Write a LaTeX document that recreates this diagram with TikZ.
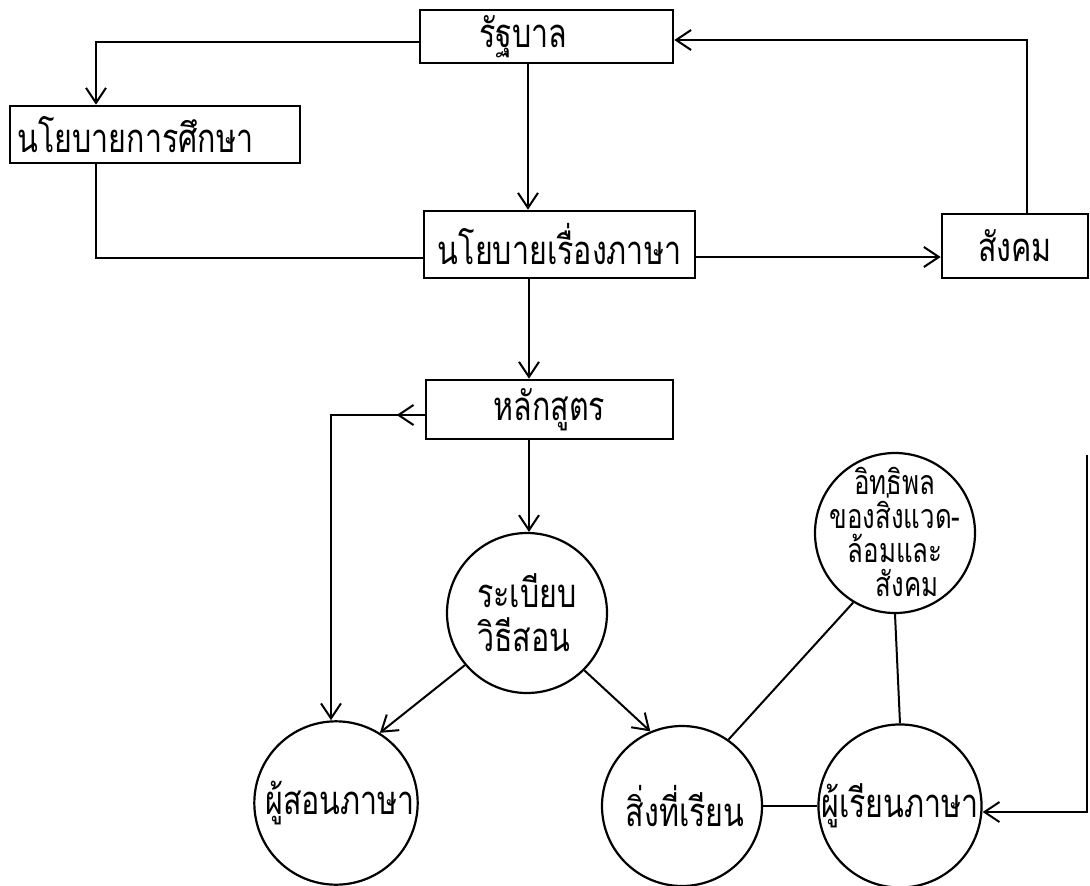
\documentclass[tikz,border=0pt]{standalone}
\usepackage{fontspec}
\setmainfont[Script=Thai,FakeStretch=0.76]{Loma}
\usetikzlibrary{arrows.meta,decorations.markings}
\begin{document}
\begin{tikzpicture}[x=1pt,y=-1pt,
  tip/.style={-{Straight Barb[length=15pt,width=20pt]}},
  box/.style={draw,line width=2.6pt,rectangle,inner sep=0pt,font=\fontsize{40}{44}\selectfont},
  circ/.style={draw,line width=2.2pt,circle,minimum size=160pt,inner sep=0pt,font=\fontsize{40}{44}\selectfont},
  conn/.style={line width=2pt},
  arr/.style={conn,tip},
  leftmark/.style={postaction={decorate,decoration={markings,
     mark=at position 28pt with {\arrow{Straight Barb[length=15pt,width=20pt]}}}}},
]
\fill[white] (0,0) rectangle (1090,886);
\useasboundingbox (0,0) rectangle (1090,886);

% boxes
\node[box,minimum width=253pt,minimum height=53pt] (gov) at (546.5,36.5) {รัฐบาล\hspace*{46pt}};
\node[box,minimum width=290pt,minimum height=57pt] (edpol) at (155,134.5) {นโยบายการศึกษา\hspace*{39pt}};
\node[box,minimum width=271pt,minimum height=67pt] (langpol) at (559.5,244.5) {นโยบายเรื่องภาษา};
\node[box,minimum width=146pt,minimum height=64pt] (soc) at (1015,246) {สังคม};
\node[box,minimum width=247pt,minimum height=59pt] (curr) at (549.5,409.5) {หลักสูตร};

% circles
\node[circ,align=left] (method) at (527,613) {ระเบียบ\\วิธีสอน};
\node[circ] (teacher) at (336,803) {\hspace*{8pt}ผู้สอนภาษา};
\node[circ] (content) at (682,806) {\hspace*{6pt}สิ่งที่เรียน};
\node[circ] (learner) at (900,806) {ผู้เรียนภาษา};
\node[circ,font=\fontsize{34}{34}\selectfont] (infl) at (895,533)
  {\makebox[0pt]{\smash{\raisebox{-5pt}{\parbox{200pt}{\centering\lineskiplimit=-100pt\baselineskip=34pt
   อิทธิพล\\ของสิ่งแวด-\\ล้อมและ\\\hspace*{24pt}สังคม}}}}};

% connectors
\draw[arr] ([yshift=-5.5pt]gov.west) -| ([xshift=-59pt]edpol.north);
\draw[conn] ([xshift=-59pt]edpol.south) |- ([yshift=-13.5pt]langpol.west);
\draw[arr] ([xshift=-18.5pt]gov.south) -- ([xshift=-31.5pt]langpol.north);
\draw[arr] ([yshift=-12.5pt]langpol.east) -- ([yshift=-11pt]soc.west);
\draw[arr] ([xshift=12pt]soc.north) |- ([yshift=-3.5pt]gov.east);
\draw[arr] ([xshift=-30.5pt]langpol.south) -- ([xshift=-20.5pt]curr.north);
\draw[arr,leftmark] ([yshift=-5.5pt]curr.west) -| ([xshift=-5pt]teacher.north);
\draw[arr] ([xshift=-20.5pt]curr.south) -- ([xshift=2pt]method.north);
\draw[arr] (method.220.7) -- (teacher.58);
\draw[arr] (method.315) -- (content.113);
\draw[conn] (content.55.6) -- (infl.239);
\draw[conn] (content.east) -- (learner.west);
\draw[conn] (infl.south) -- (learner.north);
\coordinate (re) at (1087,455);
\draw[arr] (re) |- ([yshift=-6pt]learner.east);
\end{tikzpicture}
\end{document}
